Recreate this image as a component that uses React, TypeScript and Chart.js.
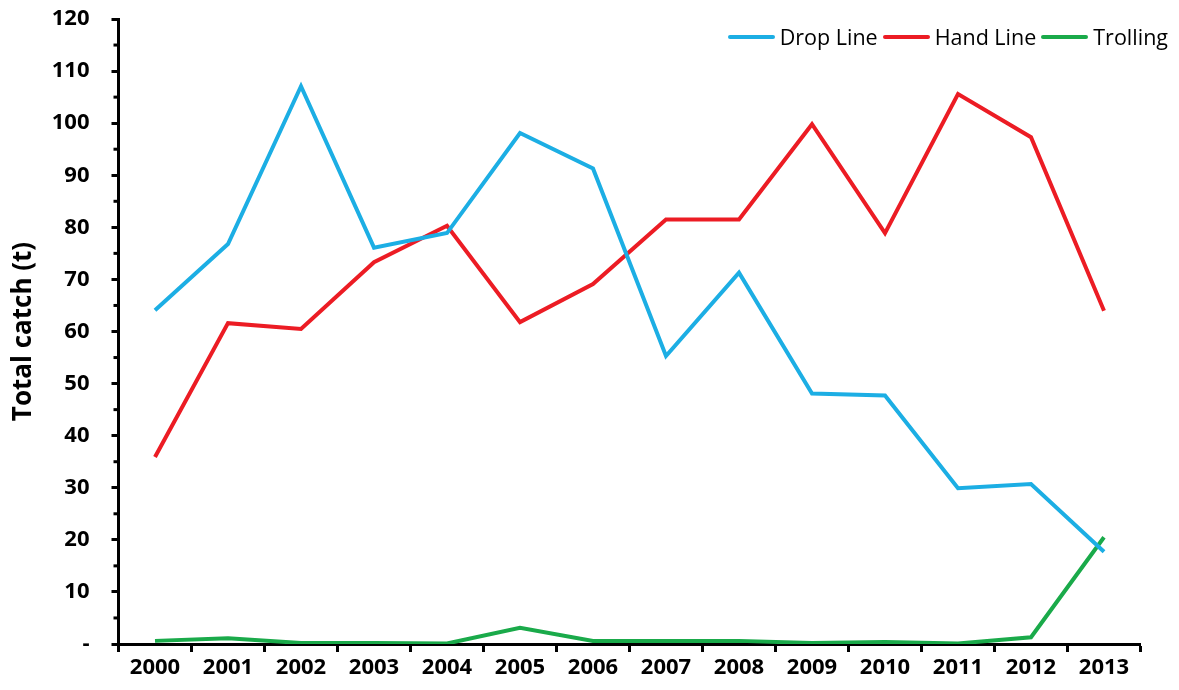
import React, { useEffect, useRef } from "react";
import { Chart, registerables } from "chart.js";

Chart.register(...registerables);

const years = ["2000", "2001", "2002", "2003", "2004", "2005", "2006", "2007", "2008", "2009", "2010", "2011", "2012", "2013"];
const dropLine = [64.1, 76.8, 107.1, 76.1, 78.9, 98.1, 91.3, 55.3, 71.3, 48.1, 47.7, 29.9, 30.7, 17.7];
const handLine = [35.9, 61.6, 60.5, 73.3, 80.3, 61.8, 69.1, 81.5, 81.5, 99.8, 78.9, 105.6, 97.3, 64.0];
const trolling = [0.6, 1.1, 0.2, 0.2, 0.1, 3.1, 0.6, 0.6, 0.6, 0.2, 0.4, 0.1, 1.3, 20.5];
const seriesNames = ["Drop Line", "Hand Line", "Trolling"];
const seriesColors = ["#1CAEE4", "#EC1C24", "#1AAA4A"];
const yTitle = "Total catch (t)";

const FONT = "'Open Sans', 'DejaVu Sans', sans-serif";

export default function App() {
  const ref = useRef<HTMLCanvasElement | null>(null);

  useEffect(() => {
    document.body.style.margin = "0";
    const canvas = ref.current;
    if (!canvas) return;

    const minorTicks = {
      id: "minorTicks",
      afterDraw(chart: any) {
        const y = chart.scales.y;
        const ctx = chart.ctx;
        const left = chart.chartArea.left;
        ctx.save();
        ctx.strokeStyle = "#000";
        ctx.lineWidth = 3;
        for (let v = 5; v < 120; v += 10) {
          const py = y.getPixelForValue(v);
          ctx.beginPath();
          ctx.moveTo(left - 5, py);
          ctx.lineTo(left, py);
          ctx.stroke();
        }
        ctx.restore();
      },
    };

    const datasets = [dropLine, handLine, trolling].map((d, i) => ({
      label: seriesNames[i],
      data: d,
      borderColor: seriesColors[i],
      backgroundColor: seriesColors[i],
      borderWidth: 4,
      pointRadius: 0,
      tension: 0,
      fill: false,
    }));

    const chart = new Chart(canvas, {
      type: "line",
      data: { labels: years, datasets },
      plugins: [minorTicks],
      options: {
        animation: false,
        responsive: false,
        maintainAspectRatio: false,
        layout: { padding: { top: 19, right: 38.5, bottom: 0, left: 0 } },
        plugins: {
          tooltip: { enabled: false },
          legend: { display: false },
        },
        scales: {
          x: {
            type: "category",
            offset: true,
            afterFit(scale: any) {
              scale.height = 46;
            },
            border: { display: true, color: "#000", width: 3 },
            grid: {
              offset: true,
              drawOnChartArea: false,
              drawTicks: true,
              tickLength: 8,
              tickColor: "#000",
              tickWidth: 3,
              color: "#000",
            },
            ticks: {
              color: "#000",
              padding: 3,
              maxRotation: 0,
              autoSkip: false,
              font: { family: FONT, size: 22, weight: "bold" },
            },
          },
          y: {
            min: 0,
            max: 120,
            afterFit(scale: any) {
              scale.width = 118.5;
              scale.paddingTop = 0;
              scale.paddingBottom = 0;
            },
            border: { display: true, color: "#000", width: 3 },
            grid: {
              drawOnChartArea: false,
              drawTicks: true,
              tickLength: 7,
              tickWidth: 3,
              tickColor: (ctx: any) => (ctx.tick && ctx.tick.value % 10 === 0 ? "#000" : "rgba(0,0,0,0)"),
            },
            ticks: {
              stepSize: 5,
              autoSkip: false,
              color: "#000",
              padding: 22,
              font: { family: FONT, size: 22, weight: "bold" },
              callback: (v: any) => {
                const n = Number(v);
                if (n % 10 !== 0) return "";
                return n === 0 ? "-" : String(n);
              },
            },
            title: {
              display: true,
              text: yTitle,
              color: "#000",
              font: { family: FONT, size: 26, weight: "bold" },
              padding: { top: 8, bottom: 0 },
            },
          },
        },
      },
    });

    return () => chart.destroy();
  }, []);

  return (
    <div style={{ position: "relative", width: 1179, height: 690, background: "#fff" }}>
      <canvas ref={ref} width={1179} height={690} style={{ display: "block", width: 1179, height: 690 }} />
      <div
        style={{
          position: "absolute",
          top: 25,
          right: 11,
          display: "flex",
          alignItems: "center",
          fontFamily: FONT,
          fontSize: 21.5,
          lineHeight: "24px",
          color: "#000",
          whiteSpace: "nowrap",
        }}
      >
        {seriesNames.map((name, i) => (
          <div key={name} style={{ display: "flex", alignItems: "center", marginLeft: i === 0 ? 0 : 5 }}>
            <span
              style={{
                display: "inline-block",
                width: 47,
                height: 4,
                borderRadius: 2,
                background: seriesColors[i],
                marginRight: 5,
              }}
            />
            <span>{name}</span>
          </div>
        ))}
      </div>
    </div>
  );
}
